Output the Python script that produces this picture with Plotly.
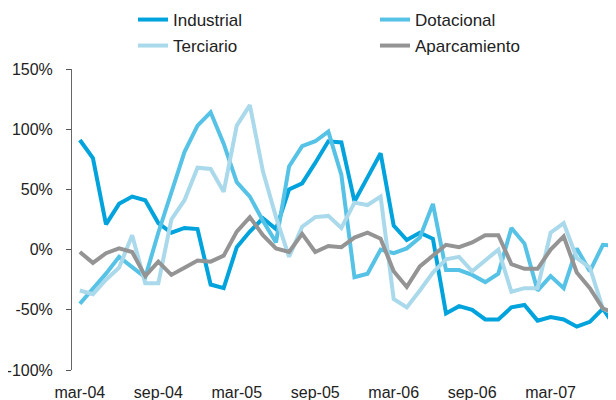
import plotly.graph_objects as go

months = ['mar-04', 'abr-04', 'may-04', 'jun-04', 'jul-04', 'ago-04', 'sep-04', 'oct-04', 'nov-04', 'dic-04',
          'ene-05', 'feb-05', 'mar-05', 'abr-05', 'may-05', 'jun-05', 'jul-05', 'ago-05', 'sep-05', 'oct-05',
          'nov-05', 'dic-05', 'ene-06', 'feb-06', 'mar-06', 'abr-06', 'may-06', 'jun-06', 'jul-06', 'ago-06',
          'sep-06', 'oct-06', 'nov-06', 'dic-06', 'ene-07', 'feb-07', 'mar-07', 'abr-07', 'may-07', 'jun-07',
          'jul-07', 'ago-07']

industrial = [91, 76, 21, 38, 44, 41, 22, 14, 18, 17, -29, -32, 2, 15, 26, 17, 50, 55, 72, 90, 89,
              40, 60, 80, 20, 8, 14, 9, -53, -47, -50, -58, -58, -48, -46, -59, -56, -58, -64, -60, -49, -65]
dotacional = [-45, -33, -20, -6, -14, -23, 14, 48, 81, 103, 114, 88, 56, 44, 24, 6, 69, 86, 90, 98, 62,
              -23, -20, 0, -3, 1, 10, 38, -17, -17, -21, -27, -20, 18, 5, -34, -22, -32, 1, -18, 4, 3]
terciario = [-34, -37, -25, -15, 12, -28, -28, 25, 41, 68, 67, 48, 103, 120, 65, 27, -6, 19, 27, 28, 18,
             39, 37, 44, -41, -48, -34, -19, -8, -6, -18, -9, 0, -35, -32, -32, 14, 22, -7, -15, -49, -54]
aparcamiento = [-2, -11, -3, 1, -2, -22, -10, -21, -15, -9, -10, -5, 15, 27, 12, 1, -2, 13, -2, 3, 2,
                10, 14, 9, -18, -31, -14, -5, 4, 2, 6, 12, 12, -12, -16, -16, 0, 11, -19, -32, -49, -53]

series_names = ['Industrial', 'Dotacional', 'Terciario', 'Aparcamiento']
series_values = [industrial, dotacional, terciario, aparcamiento]
series_colors = ['#00A3DC', '#56C2E6', '#A9D9EB', '#949494']

x_ticks = ['mar-04', 'sep-04', 'mar-05', 'sep-05', 'mar-06', 'sep-06', 'mar-07']
y_ticks = [-100, -50, 0, 50, 100, 150]
y_ticktext = [f'{v}%' for v in y_ticks]

# The page body adds an 8px offset; the figure is sized to fill the rest of the window.
OFF = 8
FW, FH = 616 - OFF, 400 - OFF
L, T, W, H = 72 - OFF, 69 - OFF, 544, 301

font = 'Liberation Sans, Arial, sans-serif'
legend_ids = ['legend', 'legend2', 'legend3', 'legend4']
legend_pos = [(133, 20), (375, 20), (133, 46), (375, 46)]  # window px: left edge, row centre

fig = go.Figure()
for name, vals, col, lg in zip(series_names, series_values, series_colors, legend_ids):
    fig.add_trace(go.Scatter(x=months, y=vals, name=name, mode='lines', legend=lg,
                             line=dict(color=col, width=4)))

xrange = [-0.6, len(months) - 1]

legends = {}
for lg, (lx, ly) in zip(legend_ids, legend_pos):
    legends[lg] = dict(orientation='v', x=(lx - OFF - L) / W, xanchor='left',
                       y=1 + (T - (ly - OFF)) / H, yanchor='middle',
                       font=dict(family=font, size=17, color='#222222'),
                       bgcolor='rgba(0,0,0,0)', borderwidth=0)

fig.update_layout(
    width=FW, height=FH,
    margin=dict(l=L, r=FW - L - W, t=T, b=FH - T - H, autoexpand=False),
    paper_bgcolor='white', plot_bgcolor='white',
    font=dict(family=font, size=16, color='#222222'),
    showlegend=True,
    **legends,
    xaxis=dict(type='category', categoryorder='array', categoryarray=months,
               range=xrange, tickmode='array', tickvals=x_ticks, ticktext=x_ticks,
               showgrid=False, zeroline=False, showline=False,
               ticks='outside', ticklen=8, tickcolor='rgba(0,0,0,0)',
               tickfont=dict(size=16)),
    xaxis2=dict(overlaying='x', anchor='free', position=0.4, range=xrange,
                tickmode='array', tickvals=[i + 0.5 for i in range(len(months))],
                showticklabels=False, ticks='outside', ticklen=4, tickcolor='#333333',
                showline=True, linecolor='#333333', linewidth=1,
                showgrid=False, zeroline=False),
    yaxis=dict(range=[-100, 150], tickmode='array', tickvals=y_ticks, ticktext=y_ticktext,
               ticks='outside', ticklen=5, tickcolor='#555555', ticklabelstandoff=10,
               showline=True, linecolor='#666666', linewidth=1,
               showgrid=False, zeroline=False, tickfont=dict(size=16)),
)

fig.write_html('out.html')
